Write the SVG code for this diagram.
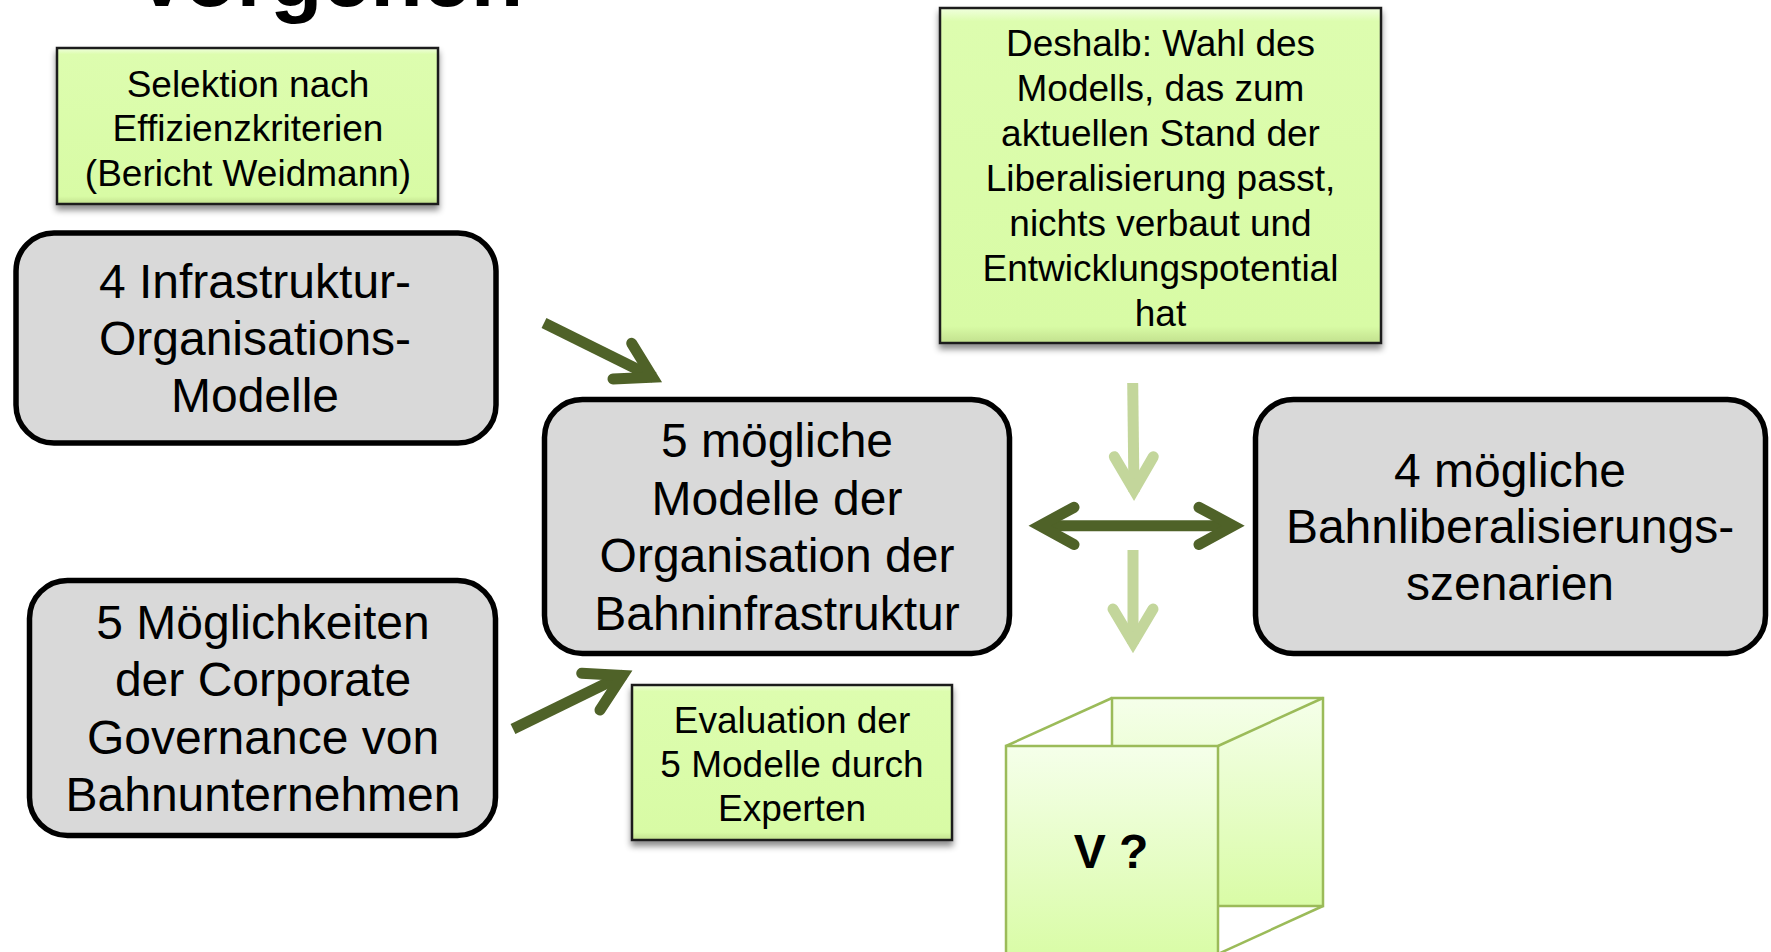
<svg xmlns="http://www.w3.org/2000/svg" width="1771" height="952" viewBox="0 0 1771 952">
  <defs>
    <linearGradient id="noteFill" x1="0" y1="0" x2="0" y2="1">
      <stop offset="0" stop-color="#f1ffdf"/>
      <stop offset="0.04" stop-color="#ddfdaf"/>
      <stop offset="0.95" stop-color="#d8fba5"/>
      <stop offset="1" stop-color="#c2e08e"/>
    </linearGradient>
    <linearGradient id="cubeFill" x1="0" y1="0" x2="0" y2="1">
      <stop offset="0" stop-color="#f5ffea"/>
      <stop offset="1" stop-color="#d9fca6"/>
    </linearGradient>
    <filter id="shadow" x="-10%" y="-10%" width="120%" height="130%">
      <feDropShadow dx="0" dy="5" stdDeviation="3" flood-color="#000" flood-opacity="0.45"/>
    </filter>
  </defs>
  <style>
    .box { fill: #d9d9d9; stroke: #000; stroke-width: 5.5; }
    .note { fill: url(#noteFill); stroke: #1e1e1e; stroke-width: 2.5; filter: url(#shadow); }
    .face { fill: url(#cubeFill); stroke: #9bbb59; stroke-width: 2.5; }
    .edge { fill: none; stroke: #9bbb59; stroke-width: 2.5; }
    text { font-family: "Liberation Sans", Arial, sans-serif; fill: #000; text-anchor: middle; }
    .big { font-size: 48px; }
    .small { font-size: 37px; }
    .title { font-size: 86px; font-weight: bold; text-anchor: start; }
    .mark { font-size: 48px; font-weight: bold; }
    .dark { fill: none; stroke: #4f6228; stroke-width: 11; }
    .light { fill: none; stroke: #c3d69b; stroke-width: 11; }
    .head { stroke-linejoin: miter; stroke-miterlimit: 10; stroke-linecap: round; }
  </style>

  <rect width="1771" height="952" fill="#fff"/>

  <!-- heading, partly above the top edge -->
  <text class="title" x="133" y="5.5">Vorgehen</text>

  <g id="note-selektion">
    <rect class="note" x="57" y="48" width="381" height="156"/>
    <text class="small" x="248" y="96.5">Selektion nach</text>
    <text class="small" x="248" y="141">Effizienzkriterien</text>
    <text class="small" x="248" y="185.5">(Bericht Weidmann)</text>
  </g>

  <g id="node-infrastruktur">
    <rect class="box" x="16" y="233" width="480" height="210" rx="38"/>
    <text class="big" x="255" y="298">4 Infrastruktur-</text>
    <text class="big" x="255" y="355">Organisations-</text>
    <text class="big" x="255" y="412">Modelle</text>
  </g>

  <g id="note-deshalb">
    <rect class="note" x="940" y="8" width="441" height="335"/>
    <text class="small" x="1160.5" y="55.5">Deshalb: Wahl des</text>
    <text class="small" x="1160.5" y="100.5">Modells, das zum</text>
    <text class="small" x="1160.5" y="145.5">aktuellen Stand der</text>
    <text class="small" x="1160.5" y="190.5">Liberalisierung passt,</text>
    <text class="small" x="1160.5" y="235.5">nichts verbaut und</text>
    <text class="small" x="1160.5" y="280.5">Entwicklungspotential</text>
    <text class="small" x="1160.5" y="325.5">hat</text>
  </g>

  <g id="node-modelle">
    <rect class="box" x="544.5" y="399.5" width="465" height="254" rx="38"/>
    <text class="big" x="777" y="457">5 mögliche</text>
    <text class="big" x="777" y="515">Modelle der</text>
    <text class="big" x="777" y="572">Organisation der</text>
    <text class="big" x="777" y="630">Bahninfrastruktur</text>
  </g>

  <g id="node-szenarien">
    <rect class="box" x="1255.5" y="399.5" width="510" height="254" rx="38"/>
    <text class="big" x="1510" y="487">4 mögliche</text>
    <text class="big" x="1510" y="543">Bahnliberalisierungs-</text>
    <text class="big" x="1510" y="600">szenarien</text>
  </g>

  <g id="node-governance">
    <rect class="box" x="29.5" y="580.5" width="466" height="255" rx="38"/>
    <text class="big" x="263" y="639">5 Möglichkeiten</text>
    <text class="big" x="263" y="696">der Corporate</text>
    <text class="big" x="263" y="754">Governance von</text>
    <text class="big" x="263" y="811">Bahnunternehmen</text>
  </g>

  <g id="note-evaluation">
    <rect class="note" x="632" y="685" width="320" height="155"/>
    <text class="small" x="792" y="732.5">Evaluation der</text>
    <text class="small" x="792" y="776.5">5 Modelle durch</text>
    <text class="small" x="792" y="820.5">Experten</text>
  </g>

  <!-- open box with the question mark -->
  <g id="node-cube">
    <rect class="face" x="1112" y="698" width="211" height="208"/>
    <line class="edge" x1="1006" y1="746" x2="1112" y2="698"/>
    <line class="edge" x1="1218" y1="746" x2="1323" y2="698"/>
    <line class="edge" x1="1323" y1="906" x2="1218" y2="954"/>
    <rect class="face" x="1006" y="746" width="212" height="212"/>
    <text class="mark" x="1111" y="868">V ?</text>
  </g>

  <g id="connectors">
    <!-- from the infrastructure models into the centre -->
    <line class="dark" x1="544" y1="323" x2="654" y2="377.5"/>
    <path class="dark head" d="M631.7,343.3 L652.5,377.2 L613,379"/>
    <!-- from corporate governance into the centre -->
    <line class="dark" x1="513" y1="729" x2="624" y2="674.8"/>
    <path class="dark head" d="M581.7,673.3 L622.6,675.4 L600,710"/>
    <!-- two-way link between centre and scenarios -->
    <line class="dark" x1="1042" y1="525.7" x2="1231" y2="525.7"/>
    <path class="dark head" d="M1074,507.3 L1040,525.7 L1074,544.5"/>
    <path class="dark head" d="M1199,507.3 L1233.2,525.7 L1199,544.5"/>
    <!-- light arrows down towards the box -->
    <line class="light" x1="1132.7" y1="383" x2="1134" y2="492"/>
    <path class="light head" d="M1114.3,456.7 L1134,490 L1153.3,456.7"/>
    <line class="light" x1="1133" y1="550" x2="1133" y2="644"/>
    <path class="light head" d="M1113,609 L1133,642.5 L1153,609"/>
  </g>
</svg>
